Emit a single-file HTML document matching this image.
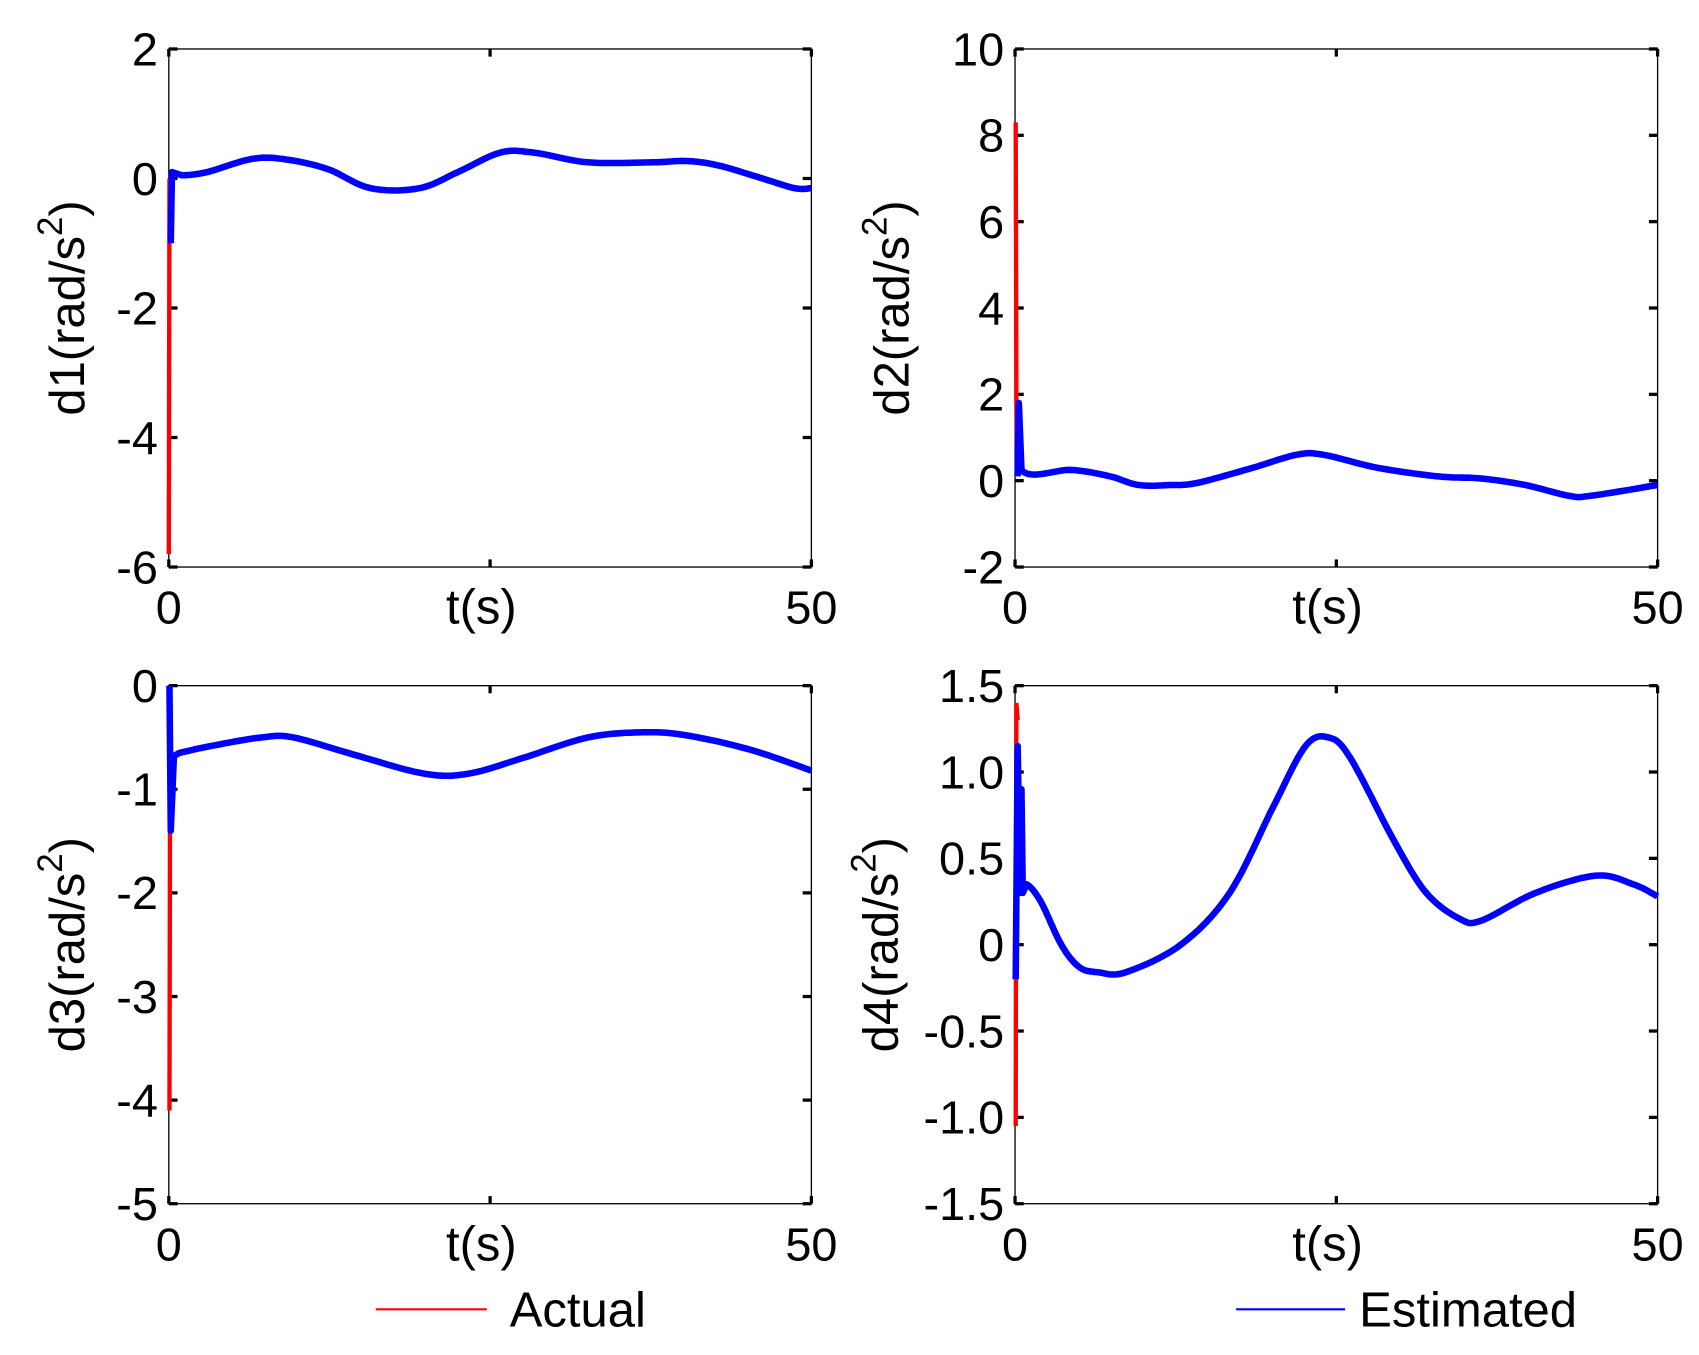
<!DOCTYPE html>
<html><head><meta charset="utf-8"><style>
html,body{margin:0;padding:0;background:#fff;}
svg{display:block;}
text{font-family:"Liberation Sans",Arial,sans-serif;fill:#000;}
</style></head><body>
<svg id="s" width="1699" height="1355" viewBox="0 0 1560 1245" preserveAspectRatio="none" xmlns="http://www.w3.org/2000/svg">
<rect width="1560" height="1245" fill="#fff"/>
<g id="g"></g>
<line x1="345" y1="1203" x2="447" y2="1203" stroke="#f00" stroke-width="2"/>
<text x="468" y="1219" font-size="45">Actual</text>
<line x1="1135" y1="1203" x2="1235" y2="1203" stroke="#00f" stroke-width="2"/>
<text x="1248" y="1219" font-size="45">Estimated</text>
</svg>
<script>
var g=document.getElementById('g');var NS='http://www.w3.org/2000/svg';
function el(t,a,txt){var e=document.createElementNS(NS,t);for(var k in a)e.setAttribute(k,a[k]);if(txt!==undefined)e.textContent=txt;g.appendChild(e);return e;}
var panels=[
{x:155,y:45,w:590,h:476,lo:-6,hi:2,ticks:[2,0,-2,-4,-6],lab:['2','0','-2','-4','-6'],name:'d1',
 red:[[0,-5.8],[0.05,0]],
 blue:[[0.15,-1.0],[0.25,0.1],[1,0.05],[3,0.1],[6.4,0.3],[8.9,0.3],[12.3,0.15],[15.7,-0.15],[19.5,-0.15],[22.5,0.1],[25.8,0.4],[28.4,0.4],[32.6,0.25],[37.7,0.25],[40.3,0.27],[42.8,0.2],[46.2,0.0],[48.7,-0.15],[50,-0.15]]},
{x:932,y:45,w:590,h:476,lo:-2,hi:10,ticks:[10,8,6,4,2,0,-2],lab:['10','8','6','4','2','0','-2'],name:'d2',
 red:[[0.05,8.3],[0.1,2],[0.15,0.5]],
 blue:[[0.2,0.1],[0.3,1.8],[0.5,0.25],[4.4,0.25],[7.4,0.1],[9.6,-0.1],[12.1,-0.1],[14.2,-0.05],[18.5,0.3],[21.9,0.6],[24,0.6],[28.2,0.3],[32.9,0.1],[36.3,0.05],[39.7,-0.1],[43.1,-0.35],[44.8,-0.35],[50,-0.1]]},
{x:155,y:630,w:590,h:476,lo:-5,hi:0,ticks:[0,-1,-2,-3,-4,-5],lab:['0','-1','-2','-3','-4','-5'],name:'d3',
 red:[[0.05,-4.1],[0.1,-0.7]],
 blue:[[0.05,0],[0.15,-1.4],[0.4,-0.68],[0.8,-0.65],[3.8,-0.57],[7.2,-0.5],[9.7,-0.5],[14.8,-0.68],[19.9,-0.85],[23.3,-0.85],[27.5,-0.7],[32.6,-0.5],[36.9,-0.45],[40.3,-0.48],[45.3,-0.62],[50,-0.82]]},
{x:932,y:630,w:590,h:476,lo:-1.5,hi:1.5,ticks:[1.5,1,0.5,0,-0.5,-1,-1.5],lab:['1.5','1.0','0.5','0','-0.5','-1.0','-1.5'],name:'d4',
 red:[[0.05,-1.05],[0.1,1.4],[0.2,1.3]],
 blue:[[0.05,-0.2],[0.2,1.15],[0.4,0.3],[0.5,0.9],[0.6,0.3],[0.9,0.35],[2,0.25],[3.6,0.0],[5,-0.13],[6.5,-0.16],[8.6,-0.16],[12.9,0.0],[16.7,0.3],[20.1,0.8],[22.6,1.15],[24.4,1.2],[26.1,1.08],[29.5,0.6],[32,0.3],[34.6,0.15],[36.3,0.14],[40.5,0.3],[45.2,0.4],[48.1,0.35],[50,0.28]]}
];
function sm(pts){var o=[];for(var i=0;i<pts.length-1;i++){var p0=pts[Math.max(i-1,0)],p1=pts[i],p2=pts[i+1],p3=pts[Math.min(i+2,pts.length-1)];
 var n=(p2[0]-p1[0]>1)?12:1;for(var k=0;k<n;k++){var t=k/n,t2=t*t,t3=t2*t;
 var f=function(a){return 0.5*((2*p1[a])+(-p0[a]+p2[a])*t+(2*p0[a]-5*p1[a]+4*p2[a]-p3[a])*t2+(-p0[a]+3*p1[a]-3*p2[a]+p3[a])*t3);};
 o.push([n==1?p1[0]:f(0),n==1?p1[1]:f(1)]);}}o.push(pts[pts.length-1]);return o;}
panels.forEach(function(p){
 var X=function(t){return p.x+p.w*t/50;},Y=function(v){return p.y+p.h*(p.hi-v)/(p.hi-p.lo);};
 el('rect',{x:p.x,y:p.y,width:p.w,height:p.h,fill:'none',stroke:'#000','stroke-width':1.2});
 p.ticks.forEach(function(v,i){var y=Y(v);
  el('line',{x1:p.x,y1:y,x2:p.x+8,y2:y,stroke:'#000','stroke-width':3});
  el('line',{x1:p.x+p.w-8,y1:y,x2:p.x+p.w,y2:y,stroke:'#000','stroke-width':3});
  el('text',{x:p.x-10,y:y+15,'font-size':43,'text-anchor':'end'},p.lab[i]);});
 [0,25,50].forEach(function(t){var x=X(t);
  el('line',{x1:x,y1:p.y,x2:x,y2:p.y+7,stroke:'#000','stroke-width':3});
  el('line',{x1:x,y1:p.y+p.h-7,x2:x,y2:p.y+p.h,stroke:'#000','stroke-width':3});});
 el('text',{x:p.x,y:p.y+p.h+52,'font-size':43,'text-anchor':'middle'},'0');
 el('text',{x:p.x+p.w,y:p.y+p.h+52,'font-size':43,'text-anchor':'middle'},'50');
 el('text',{x:p.x+p.w/2-8,y:p.y+p.h+52,'font-size':45,'text-anchor':'middle'},'t(s)');
 var lx=p.x-(p.name=='d4'||p.name=='d2'?p.name=='d4'?108:98:78),ly=p.y+p.h/2;
 var t=el('text',{x:0,y:0,'font-size':45,'text-anchor':'middle',transform:'translate('+lx+','+ly+') rotate(-90)'});
 t.innerHTML=p.name+'(rad/s<tspan dy="-20" font-size="32">2</tspan><tspan dy="20">)</tspan>';
 var d=function(pts){return 'M'+pts.map(function(q){return X(q[0]).toFixed(1)+','+Y(q[1]).toFixed(1);}).join(' L');};
 el('path',{d:d(p.red),fill:'none',stroke:'#f00','stroke-width':4});
 el('path',{d:d(sm(p.blue)),fill:'none',stroke:'#00f','stroke-width':6,'stroke-linejoin':'round'});
});
</script>
</body></html>
